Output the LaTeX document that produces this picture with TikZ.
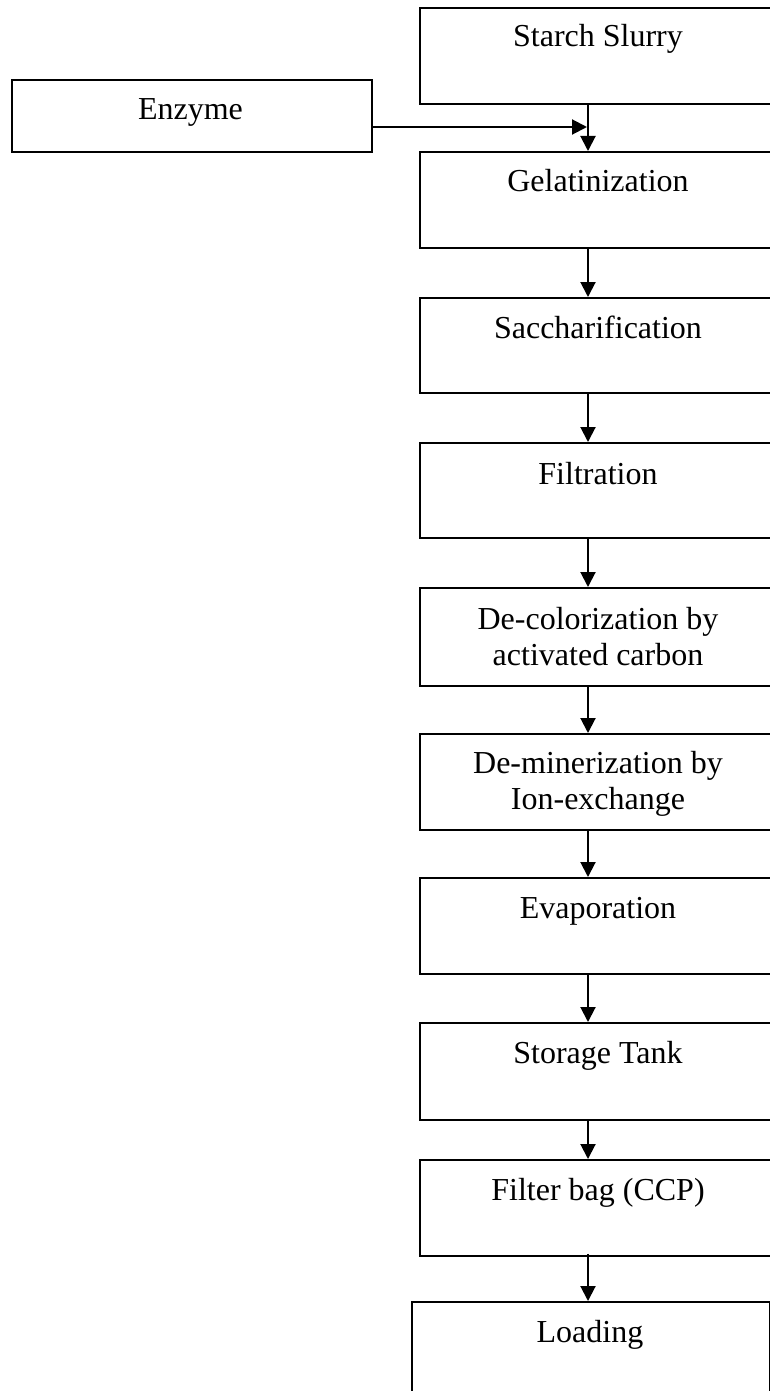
\documentclass[tikz,border=0pt]{standalone}
\usepackage{fontspec}
\setmainfont{Liberation Serif}
\usetikzlibrary{arrows.meta}
\begin{document}
\begin{tikzpicture}[x=1pt,y=-1pt,
  box/.style={draw,line width=1.8pt,rectangle,inner sep=0pt,anchor=north west,minimum width=358pt},
  lbl/.style={anchor=base,inner sep=0pt,align=center,font=\fontsize{32}{36}\selectfont},
  arr/.style={line width=2pt,-{Triangle[length=15pt,width=15pt]}}
]
\useasboundingbox (0,0) rectangle (770,1391);
\clip (0,0) rectangle (770,1391);
\coordinate (ax) at (588,0);
% boxes
\node[box,minimum width=360pt,minimum height=72pt] (enz) at (10.7,79) {};
\node[box,minimum height=96pt] (starch) at (419,7) {};
\node[box,minimum height=96pt] (gel) at (419,151) {};
\node[box,minimum height=95pt] (sacc) at (419,297) {};
\node[box,minimum height=95pt] (filt) at (419,442) {};
\node[box,minimum height=98pt] (decol) at (419,587) {};
\node[box,minimum height=96pt] (demin) at (419,733) {};
\node[box,minimum height=96pt] (evap) at (419,877) {};
\node[box,minimum height=97pt] (stor) at (419,1022) {};
\node[box,minimum height=96pt] (fbag) at (419,1159) {};
\node[box,minimum height=96pt] (load) at (411,1301) {};
% labels
\node[lbl] (tenz) at (190.5,120) {Enzyme};
\node[lbl] (tstarch) at (598,47) {Starch Slurry};
\node[lbl] (tgel) at (598,192) {Gelatinization};
\node[lbl] (tsacc) at (598,338) {Saccharification};
\node[lbl] (tfilt) at (598,484) {Filtration};
\node[lbl] (tdecol) at (598,665) {De-colorization by\\activated carbon};
\node[lbl] (tdemin) at (598,809) {De-minerization by\\Ion-exchange};
\node[lbl] (tevap) at (598,918) {Evaporation};
\node[lbl] (tstor) at (598,1063) {Storage Tank};
\node[lbl] (tfbag) at (598,1200) {Filter bag (CCP)};
\node[lbl] (tload) at (590,1342) {Loading};
% connectors
\draw[arr] (enz.east |- 0,127) coordinate (e1) -- ([xshift=-1pt]ax |- e1);
\draw[arr] (starch.south -| ax) -- (gel.north -| ax);
\draw[arr] (gel.south -| ax) -- (sacc.north -| ax);
\draw[arr] (sacc.south -| ax) -- (filt.north -| ax);
\draw[arr] (filt.south -| ax) -- (decol.north -| ax);
\draw[arr] (decol.south -| ax) -- (demin.north -| ax);
\draw[arr] (demin.south -| ax) -- (evap.north -| ax);
\draw[arr] (evap.south -| ax) -- (stor.north -| ax);
\draw[arr] (stor.south -| ax) -- (fbag.north -| ax);
\draw[arr] ([yshift=3pt]fbag.south -| ax) -- (load.north -| ax);
\end{tikzpicture}
\end{document}
